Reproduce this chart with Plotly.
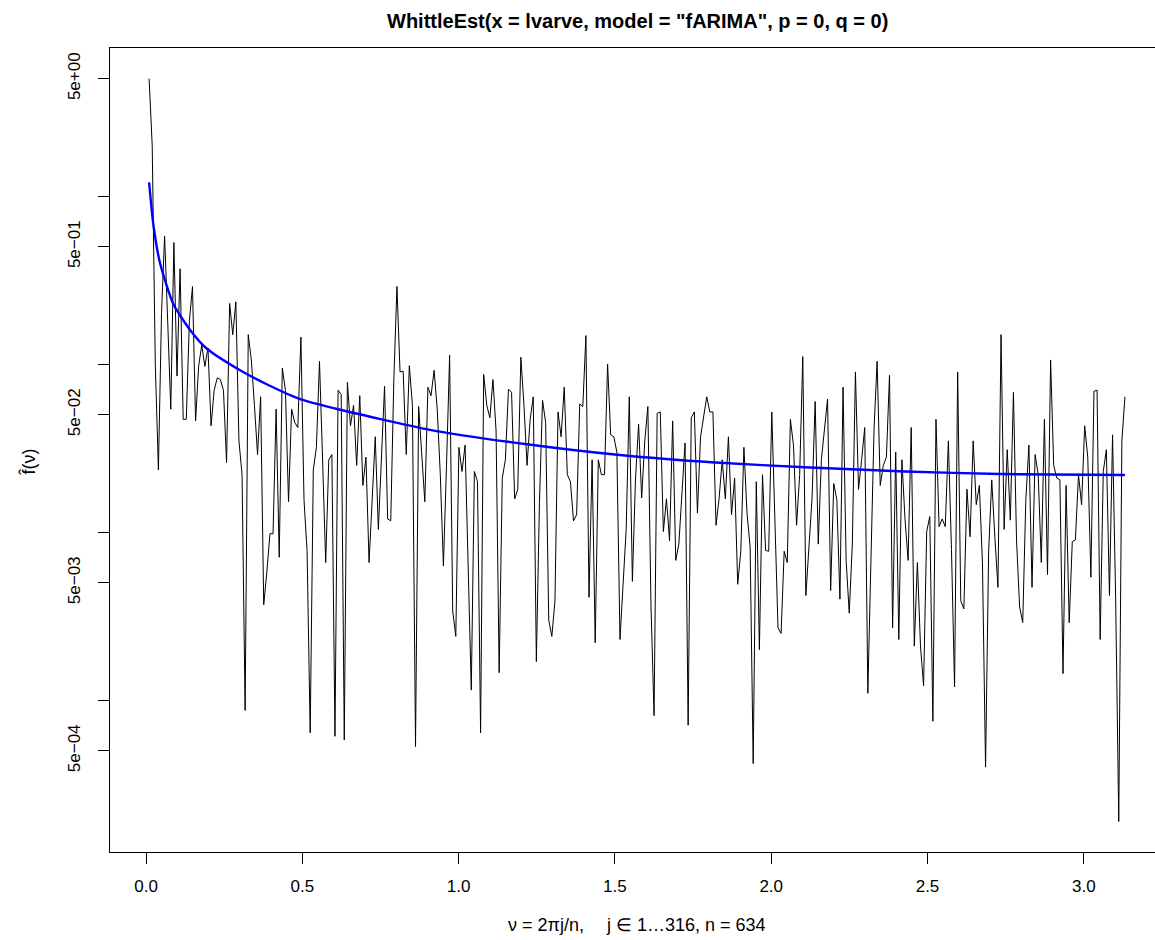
import numpy as np
import plotly.graph_objects as go

# ---------------- data ----------------
n_obs = 634
j_index = np.arange(1, 317)
freq = 2 * np.pi * j_index / n_obs   # nu = 2*pi*j/n

periodogram = [
    5.0, 2.0, 0.1, 0.0235, 0.2, 0.58, 0.18, 0.054, 0.53, 0.085,
    0.37, 0.047, 0.047, 0.18, 0.29, 0.046, 0.098, 0.13, 0.097, 0.125,
    0.043, 0.070, 0.083, 0.081, 0.070, 0.026, 0.23, 0.15, 0.235, 0.035,
    0.022, 0.00087, 0.15, 0.106, 0.057, 0.029, 0.064, 0.0037, 0.0058, 0.0098,
    0.0098, 0.054, 0.0071, 0.095, 0.070, 0.0152, 0.054, 0.045, 0.042, 0.145,
    0.0156, 0.0077, 0.00064, 0.0235, 0.032, 0.104, 0.027, 0.0066, 0.027, 0.029,
    0.00061, 0.070, 0.066, 0.00058, 0.078, 0.043, 0.057, 0.025, 0.065, 0.019,
    0.028, 0.0066, 0.0156, 0.037, 0.0104, 0.028, 0.074, 0.012, 0.0117, 0.081,
    0.29, 0.090, 0.091, 0.029, 0.098, 0.057, 0.00053, 0.056, 0.029, 0.0152,
    0.073, 0.065, 0.092, 0.054, 0.022, 0.0063, 0.025, 0.113, 0.0034, 0.0024,
    0.032, 0.023, 0.033, 0.0068, 0.00115, 0.023, 0.020, 0.00064, 0.087, 0.057,
    0.048, 0.081, 0.040, 0.00146, 0.021, 0.027, 0.071, 0.068, 0.0158, 0.018,
    0.110, 0.057, 0.025, 0.047, 0.064, 0.0017, 0.015, 0.061, 0.045, 0.0030,
    0.0024, 0.0039, 0.052, 0.037, 0.073, 0.022, 0.020, 0.0117, 0.0127, 0.058,
    0.056, 0.148, 0.0041, 0.027, 0.0022, 0.027, 0.022, 0.022, 0.100, 0.038,
    0.037, 0.030, 0.0023, 0.0049, 0.0104, 0.064, 0.0051, 0.0205, 0.044, 0.016,
    0.035, 0.056, 0.0037, 0.00081, 0.051, 0.052, 0.0101, 0.0158, 0.0089, 0.046,
    0.0068, 0.0085, 0.0162, 0.034, 0.00071, 0.048, 0.052, 0.013, 0.037, 0.050,
    0.064, 0.052, 0.052, 0.011, 0.016, 0.027, 0.0158, 0.037, 0.0127, 0.021,
    0.0049, 0.0077, 0.032, 0.013, 0.0082, 0.00042, 0.020, 0.0020, 0.022, 0.0078,
    0.0077, 0.052, 0.012, 0.0027, 0.0025, 0.0077, 0.0066, 0.047, 0.033, 0.011,
    0.022, 0.111, 0.0042, 0.009, 0.016, 0.060, 0.0085, 0.027, 0.042, 0.062,
    0.0045, 0.0195, 0.0156, 0.0040, 0.073, 0.0068, 0.0033, 0.0085, 0.090, 0.018,
    0.027, 0.042, 0.0011, 0.0068, 0.041, 0.104, 0.019, 0.025, 0.028, 0.086,
    0.0027, 0.030, 0.0023, 0.027, 0.012, 0.0068, 0.042, 0.0021, 0.0066, 0.0021,
    0.00122, 0.0101, 0.0124, 0.00075, 0.047, 0.0108, 0.012, 0.0108, 0.035, 0.0079,
    0.0012, 0.090, 0.0039, 0.0035, 0.018, 0.0094, 0.035, 0.0146, 0.019, 0.0066,
    0.00040, 0.0077, 0.0205, 0.0094, 0.0047, 0.15, 0.0104, 0.031, 0.0118, 0.068,
    0.009, 0.0036, 0.0029, 0.0156, 0.033, 0.0047, 0.029, 0.022, 0.0066, 0.047,
    0.0056, 0.106, 0.025, 0.021, 0.0205, 0.00144, 0.019, 0.0029, 0.0088, 0.0090,
    0.022, 0.0146, 0.043, 0.028, 0.0054, 0.069, 0.070, 0.0023, 0.023, 0.031,
    0.0042, 0.038, 0.004, 0.00019, 0.035, 0.064,
]

fit_freq = [0.0099, 0.0234, 0.0448, 0.0873, 0.141, 0.194, 0.301, 0.391, 0.498,
            0.605, 0.908, 1.212, 1.516, 1.820, 2.124, 2.428, 2.732, 3.1316]
fit_vals = [1.21, 0.68, 0.40, 0.228, 0.160, 0.124, 0.0920, 0.0752, 0.0615,
            0.0545, 0.0407, 0.0335, 0.0288, 0.0260, 0.0243, 0.0230, 0.0222, 0.0219]

x_ticks = [0.0, 0.5, 1.0, 1.5, 2.0, 2.5, 3.0]
x_ticklabels = ["0.0", "0.5", "1.0", "1.5", "2.0", "2.5", "3.0"]
y_ticks = [5, 1, 0.5, 0.1, 0.05, 0.01, 0.005, 0.001, 0.0005]
y_ticklabels = ["5e+00", "", "5e\u221201", "", "5e\u221202", "", "5e\u221203", "", "5e\u221204"]

title_text = 'WhittleEst(x = lvarve, model = "fARIMA", p = 0, q = 0)'
xlab_text = "\u03bd = 2\u03c0j/n,\u2003 j \u2208 1\u2026316, n = 634"
ylab_text = "f\u0302(\u03bd)"

# ---------------- figure ----------------
FONT = "Liberation Sans, Arial, Helvetica, sans-serif"
W, H = 1155, 940
ML, MR, MT, MB = 110, 0, 48, 88

fig = go.Figure()
fig.add_trace(go.Scatter(x=freq, y=periodogram, mode="lines",
                         line=dict(color="black", width=1), hoverinfo="skip"))
fig.add_trace(go.Scatter(x=fit_freq, y=fit_vals, mode="lines",
                         line=dict(color="#0000FF", width=2.4, shape="spline", smoothing=0.6),
                         hoverinfo="skip"))

fig.update_layout(
    width=W, height=H,
    margin=dict(l=ML, r=MR, t=MT, b=MB, pad=0),
    paper_bgcolor="white", plot_bgcolor="white",
    showlegend=False,
    font=dict(family=FONT, size=17, color="black"),
)
fig.update_xaxes(
    range=[-0.1152, 3.2278], tickmode="array", tickvals=x_ticks, ticktext=x_ticklabels,
    ticks="outside", ticklen=11, tickwidth=1, tickcolor="black",
    showline=True, linecolor="black", linewidth=1, mirror=True,
    showgrid=False, zeroline=False, ticklabelstandoff=8,
    tickfont=dict(family=FONT, size=17),
)
fig.update_yaxes(
    type="log", range=[-3.903, 0.882], tickmode="array", tickvals=y_ticks, ticktext=y_ticklabels,
    ticks="outside", ticklen=11, tickwidth=1, tickcolor="black",
    showline=True, linecolor="black", linewidth=1, mirror=False,
    showgrid=False, zeroline=False, tickangle=-90, ticklabelstandoff=11,
    tickfont=dict(family=FONT, size=17),
)

pw = W - ML - MR
ph = H - MT - MB
cx = (637 - ML) / pw
fig.add_annotation(text="<b>" + title_text + "</b>",
                   xref="paper", yref="paper", x=cx, y=1 + (MT - 21) / ph,
                   showarrow=False, xanchor="center", yanchor="middle",
                   font=dict(family=FONT, size=20))
fig.add_annotation(text=xlab_text, xref="paper", yref="paper", x=cx, y=-(925 - (H - MB)) / ph,
                   showarrow=False, xanchor="center", yanchor="middle",
                   font=dict(family=FONT, size=18))
fig.add_annotation(text=ylab_text, xref="paper", yref="paper", x=(28 - ML) / pw,
                   y=1 - (462 - MT) / ph, textangle=-90,
                   showarrow=False, xanchor="center", yanchor="middle",
                   font=dict(family=FONT, size=18))

fig.write_html("out.html", config={"displayModeBar": False},
               post_script="document.body.style.margin='0';document.body.style.overflow='hidden';")
